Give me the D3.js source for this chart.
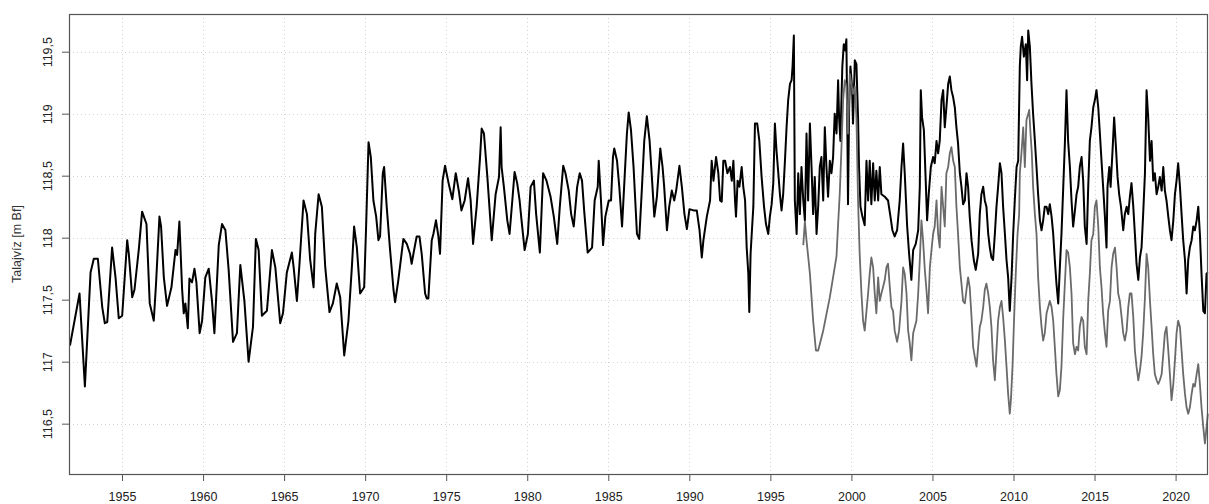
<!DOCTYPE html>
<html>
<head>
<meta charset="utf-8">
<script src="https://cdn.jsdelivr.net/npm/d3@7"></script>
<style>
  html, body { margin: 0; padding: 0; background: #fff; }
  svg { display: block; }
  text { font-family: "Liberation Sans", Arial, sans-serif; }
</style>
</head>
<body>
<svg id="chart" width="1209" height="504"></svg>
<script>
// Groundwater level, long-running well (decimal years, m Bf)
const mainYears = [
  1951.79,1952.38,1952.71,1953.06,1953.26,1953.51,1953.78,1953.94,1954.09,1954.39,1954.60,1954.80,
  1955.01,1955.32,1955.42,1955.63,1955.77,1956.04,1956.24,1956.51,1956.71,1956.96,1957.10,1957.31,
  1957.41,1957.58,1957.78,1958.05,1958.30,1958.40,1958.54,1958.71,1958.81,1958.91,1959.06,1959.16,
  1959.32,1959.47,1959.59,1959.79,1959.94,1960.14,1960.35,1960.55,1960.70,1960.97,1961.17,1961.38,
  1961.58,1961.85,1962.09,1962.30,1962.55,1962.81,1963.08,1963.26,1963.43,1963.63,1963.94,1964.25,
  1964.46,1964.76,1964.93,1965.17,1965.48,1965.59,1965.79,1965.95,1966.20,1966.41,1966.61,1966.82,
  1966.92,1967.13,1967.33,1967.54,1967.80,1968.01,1968.25,1968.46,1968.71,1968.97,1969.18,1969.32,
  1969.49,1969.69,1969.94,1970.06,1970.21,1970.35,1970.51,1970.68,1970.82,1970.92,1971.09,1971.17,
  1971.33,1971.54,1971.75,1971.85,1972.05,1972.36,1972.57,1972.77,1972.87,1972.98,1973.18,1973.35,
  1973.49,1973.70,1973.80,1973.90,1974.11,1974.21,1974.37,1974.52,1974.62,1974.78,1974.93,
  1975.18,1975.38,1975.59,1975.79,1975.94,1976.14,1976.35,1976.51,1976.66,1976.88,1977.09,1977.19,
  1977.33,1977.54,1977.81,1978.05,1978.26,1978.36,1978.42,1978.56,1978.77,1978.91,1979.08,1979.22,
  1979.38,1979.53,1979.65,1979.84,1980.04,1980.21,1980.41,1980.55,1980.78,1980.98,1981.19,1981.44,
  1981.64,1981.85,1982.01,1982.22,1982.36,1982.56,1982.71,1982.87,1983.08,1983.24,1983.38,1983.53,
  1983.73,1984.00,1984.16,1984.35,1984.41,1984.55,1984.68,1984.82,1985.03,1985.17,1985.29,1985.37,
  1985.54,1985.68,1985.85,1986.01,1986.15,1986.26,1986.40,1986.56,1986.77,1986.91,1987.08,1987.22,
  1987.38,1987.55,1987.69,1987.84,1988.00,1988.21,1988.35,1988.45,1988.62,1988.76,1988.92,1989.07,
  1989.19,1989.39,1989.54,1989.70,1989.85,1990.01,1990.26,1990.46,1990.63,1990.77,1990.87,1991.08,
  1991.28,1991.38,1991.49,1991.65,1991.79,1991.90,1992.00,1992.10,1992.21,1992.35,1992.51,1992.62,
  1992.72,1992.82,1992.88,1992.98,1993.09,1993.23,1993.33,1993.44,1993.54,1993.64,1993.70,1993.78,
  1993.85,1993.95,1994.05,1994.19,1994.32,1994.46,1994.61,1994.73,1994.87,1994.97,1995.08,1995.18,
  1995.28,1995.38,1995.49,1995.59,1995.69,1995.79,1995.90,1996.00,1996.10,1996.21,1996.31,1996.37,
  1996.45,1996.51,1996.62,1996.72,1996.82,1996.92,1997.03,1997.13,1997.23,1997.33,1997.44,1997.54,
  1997.64,1997.74,1997.85,1997.95,1998.05,1998.15,1998.26,1998.36,1998.46,1998.56,1998.67,1998.77,
  1998.87,1998.97,1999.08,1999.18,1999.24,1999.32,1999.44,1999.53,1999.61,1999.69,1999.75,1999.79,
  1999.86,1999.94,2000.04,2000.10,2000.21,2000.31,2000.41,2000.47,2000.56,2000.68,2000.82,2000.93,
  2001.03,2001.13,2001.23,2001.34,2001.44,2001.54,2001.65,2001.75,2001.85,2002.06,2002.26,2002.41,
  2002.53,2002.67,2002.82,2002.98,2003.09,2003.19,2003.29,2003.44,2003.56,2003.70,2003.81,2003.97,
  2004.12,2004.22,2004.28,2004.36,2004.47,2004.59,2004.67,2004.77,2004.90,2005.04,2005.14,2005.25,
  2005.35,2005.45,2005.56,2005.66,2005.76,2005.86,2005.97,2006.07,2006.17,2006.28,2006.38,2006.48,
  2006.58,2006.69,2006.79,2006.89,2007.00,2007.10,2007.20,2007.30,2007.41,2007.55,2007.67,2007.82,
  2007.92,2008.02,2008.13,2008.23,2008.33,2008.44,2008.54,2008.64,2008.74,2008.85,2008.95,2009.05,
  2009.16,2009.26,2009.36,2009.47,2009.57,2009.67,2009.77,2009.88,2009.98,2010.08,2010.19,2010.29,
  2010.39,2010.45,2010.53,2010.64,2010.76,2010.84,2010.91,2011.01,2011.11,2011.21,2011.32,2011.42,
  2011.52,2011.63,2011.73,2011.83,2011.93,2012.04,2012.14,2012.24,2012.35,2012.45,2012.55,2012.65,
  2012.76,2012.86,2012.96,2013.07,2013.17,2013.27,2013.37,2013.48,2013.58,2013.68,2013.79,2013.89,
  2013.99,2014.09,2014.20,2014.30,2014.40,2014.51,2014.61,2014.71,2014.81,2014.92,2015.02,2015.12,
  2015.23,2015.33,2015.43,2015.53,2015.64,2015.74,2015.80,2015.91,2015.99,2016.11,2016.21,2016.32,
  2016.42,2016.52,2016.63,2016.77,2016.87,2016.98,2017.08,2017.18,2017.28,2017.39,2017.49,2017.59,
  2017.70,2017.80,2017.90,2018.00,2018.11,2018.21,2018.31,2018.42,2018.52,2018.62,2018.72,2018.83,
  2018.93,2019.03,2019.14,2019.24,2019.34,2019.44,2019.55,2019.65,2019.75,2019.86,2019.96,2020.06,
  2020.16,2020.27,2020.37,2020.47,2020.58,2020.68,2020.78,2020.88,2020.99,2021.09,2021.19,2021.30,
  2021.40,2021.50,2021.60,2021.71,2021.81,2021.91,2021.99
];
const mainLevels = [
  117.13,117.55,116.80,117.72,117.83,117.83,117.44,117.31,117.32,117.92,117.68,117.35,
  117.37,117.98,117.87,117.52,117.58,117.91,118.21,118.11,117.47,117.33,117.63,118.17,
  118.09,117.68,117.45,117.60,117.90,117.86,118.13,117.58,117.39,117.47,117.27,117.67,
  117.64,117.75,117.64,117.23,117.33,117.68,117.75,117.49,117.23,117.94,118.11,118.06,
  117.74,117.16,117.23,117.78,117.49,117.00,117.28,117.99,117.90,117.37,117.41,117.90,
  117.76,117.31,117.39,117.72,117.88,117.76,117.49,117.79,118.30,118.19,117.82,117.60,
  118.03,118.35,118.25,117.76,117.40,117.47,117.63,117.52,117.05,117.33,117.76,118.09,
  117.92,117.55,117.60,118.09,118.77,118.65,118.30,118.17,117.98,118.01,118.52,118.57,
  118.25,117.90,117.58,117.48,117.66,117.99,117.95,117.87,117.79,117.87,118.01,118.01,
  117.87,117.55,117.51,117.51,117.98,118.03,118.14,118.01,117.87,118.46,118.58,
  118.42,118.31,118.52,118.37,118.22,118.30,118.48,118.30,117.95,118.25,118.65,118.88,
  118.84,118.49,117.98,118.35,118.49,118.89,118.57,118.41,118.14,118.03,118.30,118.53,
  118.44,118.30,118.14,117.90,118.03,118.41,118.46,118.19,117.88,118.52,118.46,118.33,
  118.17,117.95,118.25,118.58,118.52,118.38,118.19,118.09,118.41,118.52,118.46,118.19,
  117.88,117.92,118.30,118.41,118.62,118.30,117.94,118.17,118.30,118.30,118.65,118.72,
  118.62,118.41,118.09,118.49,118.84,119.01,118.87,118.57,118.03,117.99,118.41,118.78,
  118.98,118.78,118.49,118.17,118.33,118.72,118.57,118.41,118.06,118.25,118.38,118.30,
  118.38,118.58,118.41,118.19,118.07,118.23,118.22,118.22,118.06,117.84,117.98,118.17,
  118.30,118.62,118.46,118.65,118.52,118.30,118.29,118.62,118.62,118.52,118.57,118.46,
  118.62,118.30,118.17,118.46,118.41,118.57,118.41,118.30,117.92,117.71,117.40,117.87,
  118.03,118.25,118.92,118.92,118.78,118.49,118.25,118.11,118.03,118.17,118.27,118.44,
  118.92,118.70,118.52,118.35,118.22,118.35,118.62,118.89,119.11,119.24,119.27,119.38,
  119.63,118.30,118.03,118.52,118.19,118.57,118.30,118.14,118.84,118.30,118.92,118.57,
  118.19,118.49,118.03,118.25,118.57,118.65,118.30,118.89,118.57,118.33,118.62,118.52,
  118.65,119.00,118.84,119.27,118.97,118.78,119.38,119.56,119.51,119.60,118.89,118.27,
  119.05,119.38,119.22,118.92,119.43,119.40,118.97,118.57,118.25,118.17,118.10,118.62,
  118.30,118.62,118.27,118.60,118.30,118.54,118.30,118.57,118.35,118.33,118.30,118.17,
  118.06,118.01,118.06,118.30,118.57,118.76,118.52,118.09,117.87,117.66,117.90,117.95,
  118.06,118.41,119.19,118.97,118.87,118.44,118.14,118.35,118.57,118.65,118.60,118.78,
  118.68,118.78,119.11,119.19,118.89,119.05,119.24,119.30,119.19,119.13,119.05,118.89,
  118.76,118.52,118.41,118.27,118.30,118.52,118.41,118.17,117.98,117.82,117.74,117.87,
  118.19,118.35,118.41,118.30,118.25,118.03,117.92,117.84,117.82,118.03,118.25,118.41,
  118.60,118.52,118.25,118.03,117.82,117.68,117.41,117.68,118.03,118.30,118.57,118.62,
  119.38,119.54,119.62,119.46,119.56,119.27,119.67,119.54,119.24,119.00,118.78,118.57,
  118.35,118.14,118.06,118.14,118.25,118.25,118.19,118.27,118.17,118.03,117.82,117.63,
  117.47,117.76,118.03,118.41,118.76,119.19,118.78,118.57,118.30,118.09,118.22,118.35,
  118.41,118.57,118.65,118.46,118.09,117.95,118.41,118.78,118.89,119.05,119.11,119.19,
  119.05,118.84,118.62,118.41,118.17,117.92,118.41,118.57,118.41,118.70,118.97,118.73,
  118.49,118.35,118.25,118.06,118.19,118.25,118.19,118.33,118.44,118.25,118.03,117.79,
  117.66,117.84,117.92,118.19,118.52,119.19,118.97,118.62,118.78,118.46,118.52,118.35,
  118.41,118.49,118.38,118.57,118.38,118.30,118.17,118.06,117.98,118.14,118.35,118.46,
  118.60,118.41,118.19,117.98,117.82,117.55,117.82,117.92,117.98,118.09,118.06,118.14,
  118.25,118.03,117.71,117.41,117.39,117.71,117.72
];

// Groundwater level, second well (decimal years, m Bf)
const secondYears = [
  1997.03,1997.13,1997.23,1997.44,1997.64,1997.81,1997.95,1998.26,1998.67,1999.08,1999.18,1999.28,
  1999.38,1999.49,1999.59,1999.69,1999.79,1999.90,2000.00,2000.10,2000.21,2000.31,2000.41,2000.51,
  2000.62,2000.72,2000.82,2000.93,2001.03,2001.13,2001.23,2001.34,2001.44,2001.54,2001.65,2001.75,
  2001.85,2001.95,2002.06,2002.16,2002.26,2002.37,2002.47,2002.57,2002.67,2002.82,2002.94,2003.09,
  2003.19,2003.29,2003.40,2003.50,2003.60,2003.70,2003.81,2003.91,2004.01,2004.12,2004.22,2004.32,
  2004.42,2004.53,2004.63,2004.73,2004.84,2004.94,2005.04,2005.14,2005.25,2005.35,2005.45,2005.56,
  2005.66,2005.76,2005.86,2005.97,2006.07,2006.17,2006.28,2006.38,2006.48,2006.58,2006.69,2006.79,
  2006.89,2007.00,2007.10,2007.20,2007.30,2007.41,2007.51,2007.61,2007.72,2007.82,2007.92,2008.02,
  2008.13,2008.23,2008.33,2008.44,2008.54,2008.64,2008.74,2008.85,2008.95,2009.05,2009.16,2009.26,
  2009.36,2009.47,2009.57,2009.67,2009.77,2009.84,2009.94,2010.04,2010.14,2010.25,2010.35,2010.39,
  2010.49,2010.60,2010.70,2010.80,2010.91,2010.97,2011.05,2011.13,2011.21,2011.32,2011.42,2011.52,
  2011.63,2011.73,2011.83,2011.93,2012.04,2012.14,2012.24,2012.35,2012.45,2012.55,2012.65,2012.76,
  2012.86,2012.96,2013.07,2013.17,2013.27,2013.37,2013.48,2013.58,2013.68,2013.79,2013.89,2013.99,
  2014.09,2014.20,2014.30,2014.40,2014.51,2014.61,2014.71,2014.81,2014.92,2015.02,2015.12,2015.23,
  2015.33,2015.43,2015.53,2015.64,2015.74,2015.84,2015.95,2016.05,2016.15,2016.26,2016.36,2016.46,
  2016.56,2016.67,2016.77,2016.87,2016.98,2017.08,2017.18,2017.28,2017.39,2017.49,2017.59,2017.70,
  2017.80,2017.90,2018.00,2018.11,2018.21,2018.31,2018.42,2018.52,2018.62,2018.72,2018.83,2018.93,
  2019.03,2019.14,2019.24,2019.34,2019.44,2019.55,2019.65,2019.75,2019.86,2019.96,2020.06,2020.16,
  2020.27,2020.37,2020.47,2020.58,2020.68,2020.78,2020.88,2020.99,2021.09,2021.19,2021.30,2021.40,
  2021.50,2021.60,2021.71,2021.81,2021.91,2021.99
];
const secondLevels = [
  117.94,118.13,117.98,117.71,117.33,117.09,117.09,117.25,117.52,117.85,118.11,118.35,
  118.70,119.11,119.27,119.22,118.84,119.32,119.24,119.16,119.22,118.97,118.30,117.87,
  117.55,117.33,117.25,117.41,117.55,117.71,117.84,117.76,117.55,117.39,117.68,117.49,
  117.55,117.60,117.66,117.76,117.79,117.60,117.44,117.41,117.25,117.16,117.25,117.49,
  117.76,117.71,117.55,117.25,117.15,117.01,117.23,117.28,117.33,117.55,117.82,118.14,
  117.98,117.74,117.58,117.39,117.76,117.90,118.03,118.09,118.30,118.03,117.92,118.41,
  118.25,118.09,118.52,118.57,118.68,118.73,118.62,118.57,118.25,118.03,117.76,117.63,
  117.49,117.47,117.58,117.68,117.60,117.36,117.12,117.04,116.96,117.12,117.28,117.33,
  117.44,117.58,117.63,117.55,117.44,117.28,117.01,116.85,117.09,117.33,117.44,117.49,
  117.36,117.17,116.96,116.74,116.58,116.69,116.96,117.36,117.71,118.03,118.19,118.52,
  118.68,118.89,118.57,118.95,119.00,119.03,118.84,118.68,118.41,118.19,118.03,117.68,
  117.44,117.28,117.17,117.23,117.39,117.44,117.49,117.44,117.33,117.12,116.90,116.72,
  116.77,116.96,117.36,117.63,117.90,117.88,117.76,117.55,117.15,117.06,117.12,117.09,
  117.28,117.36,117.33,117.12,117.06,117.49,117.71,117.98,118.03,118.25,118.30,118.09,
  117.76,117.60,117.39,117.23,117.12,117.41,117.49,117.76,117.87,117.92,117.76,117.55,
  117.49,117.36,117.23,117.17,117.25,117.44,117.55,117.55,117.36,117.09,116.96,116.85,
  116.93,117.04,117.23,117.52,117.87,117.76,117.49,117.28,117.06,116.90,116.85,116.82,
  116.85,116.90,117.06,117.23,117.28,117.09,116.90,116.69,116.82,117.01,117.23,117.33,
  117.28,117.09,116.90,116.74,116.63,116.58,116.63,116.74,116.82,116.80,116.90,116.98,
  116.82,116.63,116.47,116.34,116.47,116.58
];

// Axis ticks and labels
const yearTicks = [1955,1960,1965,1970,1975,1980,1985,1990,1995,2000,2005,2010,2015,2020];
const levelTicks = [116.5,117,117.5,118,118.5,119,119.5];
const levelLabels = ["116,5","117","117,5","118","118,5","119","119,5"];
const yTitle = "Talajvíz [m Bf]";

const svg = d3.select("#chart");
const plot = { left: 69, right: 1208, top: 14, bottom: 474 };

const x = d3.scaleLinear().domain([1951.73, 2022.0]).range([plot.left, plot.right]);
const y = d3.scaleLinear().domain([116.094, 119.804]).range([plot.bottom, plot.top]);

// dotted background grid
const grid = svg.append("g")
  .attr("stroke", "#d3d3d3")
  .attr("stroke-width", 1)
  .attr("stroke-dasharray", "1,3");
grid.selectAll("line.v").data(yearTicks).join("line")
  .attr("class", "v")
  .attr("x1", d => Math.round(x(d)) + 0.5).attr("x2", d => Math.round(x(d)) + 0.5)
  .attr("y1", plot.top).attr("y2", plot.bottom);
grid.selectAll("line.h").data(levelTicks).join("line")
  .attr("class", "h")
  .attr("y1", d => Math.round(y(d)) + 0.5).attr("y2", d => Math.round(y(d)) + 0.5)
  .attr("x1", plot.left).attr("x2", plot.right);

const line = d3.line().x(d => x(d[0])).y(d => y(d[1]));

const mainData = d3.zip(mainYears, mainLevels);
const secondData = d3.zip(secondYears, secondLevels);

svg.append("path")
  .datum(mainData)
  .attr("fill", "none")
  .attr("stroke", "#000")
  .attr("stroke-width", 2)
  .attr("stroke-linejoin", "round")
  .attr("d", line);

svg.append("path")
  .datum(secondData)
  .attr("fill", "none")
  .attr("stroke", "#6a6a6a")
  .attr("stroke-width", 1.8)
  .attr("stroke-linejoin", "round")
  .attr("d", line);

// frame
svg.append("rect")
  .attr("x", plot.left + 0.5).attr("y", plot.top + 0.5)
  .attr("width", plot.right - plot.left - 1).attr("height", plot.bottom - plot.top)
  .attr("fill", "none").attr("stroke", "#555").attr("stroke-width", 1.2);

// x axis
const xAxis = d3.axisBottom(x)
  .tickValues(yearTicks)
  .tickFormat(d3.format("d"))
  .tickSize(7)
  .tickPadding(11.5);
const gx = svg.append("g")
  .attr("transform", `translate(0,${plot.bottom})`)
  .call(xAxis);
gx.select(".domain").remove();
gx.selectAll(".tick line").attr("stroke", "#555");
gx.selectAll(".tick text")
  .attr("fill", "#222")
  .style("font-size", "12.5px")
  .style("font-family", "'Liberation Sans', Arial, sans-serif");

// y axis with rotated labels
const yAxis = d3.axisLeft(y)
  .tickValues(levelTicks)
  .tickFormat((d, i) => levelLabels[i])
  .tickSize(7);
const gy = svg.append("g")
  .attr("transform", `translate(${plot.left},0)`)
  .call(yAxis);
gy.select(".domain").remove();
gy.selectAll(".tick line").attr("stroke", "#555");
gy.selectAll(".tick text")
  .attr("x", null).attr("dy", null)
  .attr("text-anchor", "middle")
  .attr("transform", "translate(-17.5,0) rotate(-90)")
  .attr("fill", "#222")
  .style("font-size", "12.5px")
  .style("font-family", "'Liberation Sans', Arial, sans-serif");

svg.append("text")
  .attr("transform", `translate(21,${(plot.top + plot.bottom) / 2}) rotate(-90)`)
  .attr("text-anchor", "middle")
  .attr("fill", "#333")
  .style("font-size", "12.5px")
  .text(yTitle);
</script>
</body>
</html>
